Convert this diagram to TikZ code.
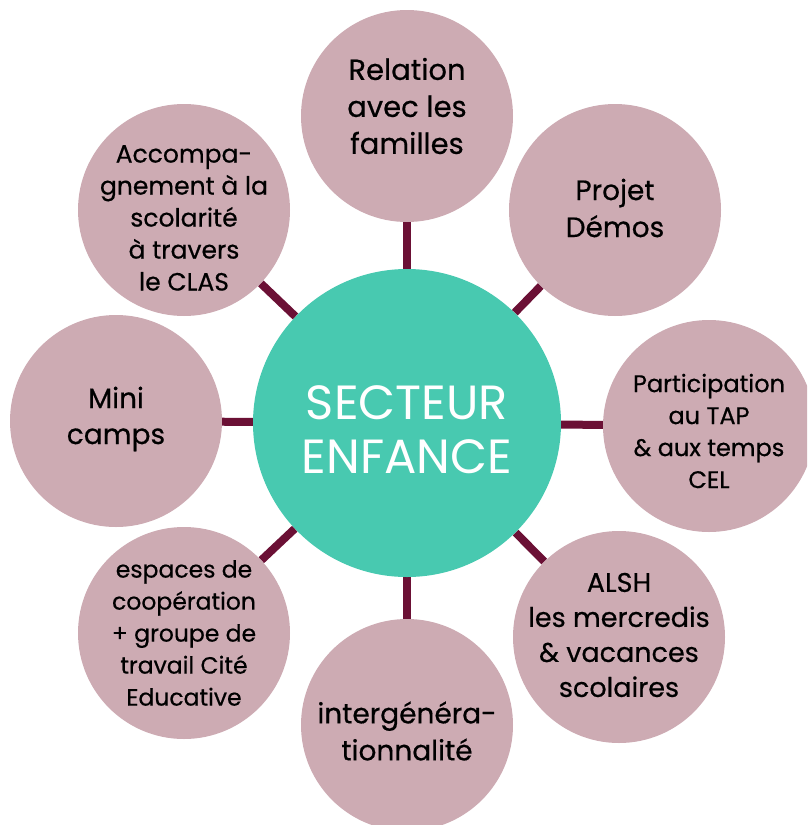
\documentclass[tikz,border=0pt]{standalone}
\usepackage{fontspec}
\setmainfont{Poppins}
\usetikzlibrary{backgrounds}
\definecolor{rose}{HTML}{CDABB3}
\definecolor{menthe}{HTML}{48C9B0}
\definecolor{bordeaux}{HTML}{6B1035}
\def\taille#1#2{\fontsize{#1}{#2}\selectfont}

\begin{document}
\begin{tikzpicture}[x=1pt, y=-1pt,
    bulle/.style={circle, fill=rose, minimum size=212pt, inner sep=0pt},
    texte/.style={align=center, inner sep=0pt},
    lien/.style={color=bordeaux, line width=8pt}]
  \useasboundingbox (0,0) rectangle (807,825);
  \clip (0,0) rectangle (807,825);
  \node[circle, fill=menthe, minimum size=308pt] (secteur) at (407,423) {};
  \node[texte, text=white, font=\taille{48}{54}] (secteur-t) at (407,430) {SECTEUR\\ENFANCE};
  \foreach \nom/\x/\y/\dy/\fs/\bs/\txt in {
      familles/407/116/-10/29/37/{Relation\\avec les\\familles},
      demos/615/210/-2/28/37/{Projet\\Démos},
      tap/709/426/5/24/32/{Participation\\au TAP\\\& aux temps\\CEL},
      alsh/619/637/-2/27/35/{ALSH\\les mercredis\\\& vacances\\scolaires},
      inter/407/725/6/28/37/{intergénéra-\\tionnalité},
      cite/184/633/0/23.5/32/{espaces de\\coopération\\+ groupe de\\travail Cité\\Educative},
      camps/116/421/-2/28/36/{Mini\\camps},
      clas/184/210/8/25/32/{Accompa-\\gnement à la\\scolarité\\à travers\\le CLAS}}{
    \node[bulle] (\nom) at (\x,\y) {};
    \node[texte, font=\taille{\fs}{\bs}\addfontfeature{FakeBold=0.5}] (\nom-t) at (\x,\y+\dy) {\txt};
  }
  \begin{scope}[on background layer]
    \foreach \n in {familles,demos,tap,alsh,inter,cite,camps,clas}
      \draw[lien] (secteur) -- (\n);
  \end{scope}
\end{tikzpicture}
\end{document}
